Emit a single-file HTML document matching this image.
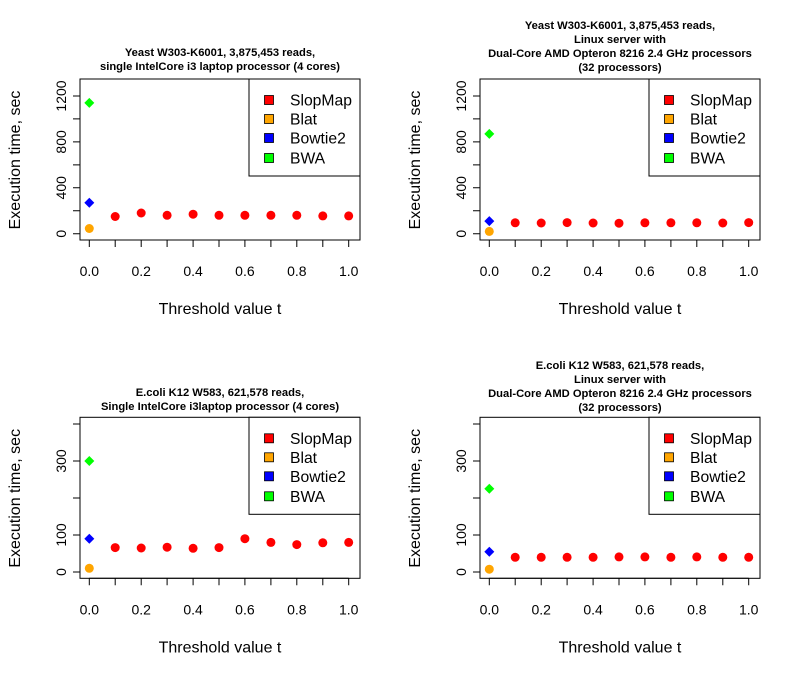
<!DOCTYPE html>
<html><head><meta charset="utf-8"><style>
html,body{margin:0;padding:0;background:#fff}
svg{display:block;font-family:"Liberation Sans",Arial,sans-serif}
.t{font-weight:bold;font-size:11.2px;text-anchor:middle}
.tk{font-size:14px;text-anchor:middle}
.ax{font-size:16px;text-anchor:middle}
.lg{font-size:15.7px}
</style></head><body>
<svg width="800" height="678" viewBox="0 0 800 678" xmlns="http://www.w3.org/2000/svg">
<defs>
<g id="xaxis">
 <path d="M89.3,240V247M115.2,240V247M141.2,240V247M167.1,240V247M193.1,240V247M219,240V247M244.9,240V247M270.9,240V247M296.8,240V247M322.8,240V247M348.7,240V247M89.3,240H348.7" stroke="#000" fill="none"/>
 <g class="tk"><text x="89.3" y="276">0.0</text><text x="141.2" y="276">0.2</text><text x="193.1" y="276">0.4</text><text x="244.9" y="276">0.6</text><text x="296.8" y="276">0.8</text><text x="348.7" y="276">1.0</text></g>
 <text class="ax" x="220" y="314">Threshold value t</text>
 <text class="ax" transform="translate(20,160) rotate(-90)">Execution time, sec</text>
 <rect x="80" y="79" width="280" height="161" fill="none" stroke="#000"/>
 <rect x="249" y="79" width="111" height="97" fill="#fff" stroke="#000"/>
 <g stroke="#000" stroke-width="0.8">
 <rect x="264.5" y="95.5" width="9" height="9" fill="#f00"/>
 <rect x="264.5" y="114.5" width="9" height="9" fill="#ffa500"/>
 <rect x="264.5" y="133.5" width="9" height="9" fill="#00f"/>
 <rect x="264.5" y="153.5" width="9" height="9" fill="#0f0"/>
 </g>
 <g class="lg"><text x="290" y="105.5">SlopMap</text><text x="290" y="124.5">Blat</text><text x="290" y="143.5">Bowtie2</text><text x="290" y="163.5">BWA</text></g>
</g>
<g id="yTop">
 <path d="M80,233.7H73M80,210.8H73M80,187.8H73M80,164.9H73M80,141.9H73M80,118.9H73M80,96H73M80,96V233.7" stroke="#000"/>
 <g class="tk"><text transform="translate(66,233.7) rotate(-90)">0</text><text transform="translate(66,187.8) rotate(-90)">400</text><text transform="translate(66,141.9) rotate(-90)">800</text><text transform="translate(66,96) rotate(-90)">1200</text></g>
</g>
<g id="yBot">
 <path d="M80,233.7H73M80,196.7H73M80,159.7H73M80,122.7H73M80,85.7H73M80,85.7V233.7" stroke="#000"/>
 <g class="tk"><text transform="translate(66,233.7) rotate(-90)">0</text><text transform="translate(66,196.7) rotate(-90)">100</text><text transform="translate(66,122.7) rotate(-90)">300</text></g>
</g>
</defs>

<use href="#xaxis"/><use href="#yTop"/>
<text class="t" x="220" y="56">Yeast W303-K6001, 3,875,453 reads,</text>
<text class="t" x="220" y="70">single IntelCore i3 laptop processor (4 cores)</text>
<g fill="#f00"><circle cx="115.2" cy="216.5" r="4.5"/><circle cx="141.2" cy="213" r="4.5"/><circle cx="167.1" cy="215.3" r="4.5"/><circle cx="193.1" cy="214.2" r="4.5"/><circle cx="219" cy="215.3" r="4.5"/><circle cx="244.9" cy="215.3" r="4.5"/><circle cx="270.9" cy="215.3" r="4.5"/><circle cx="296.8" cy="215.3" r="4.5"/><circle cx="322.8" cy="215.9" r="4.5"/><circle cx="348.7" cy="215.9" r="4.5"/></g>
<circle cx="89.3" cy="228.5" r="4.5" fill="#ffa500"/>
<path d="M89.3,197.7l5,5-5,5-5-5z" fill="#00f"/>
<path d="M89.3,97.9l5,5-5,5-5-5z" fill="#0f0"/>

<g transform="translate(400,0)">
<use href="#xaxis"/><use href="#yTop"/>
<g fill="#f00"><circle cx="115.2" cy="222.8" r="4.5"/><circle cx="141.2" cy="223" r="4.5"/><circle cx="167.1" cy="222.6" r="4.5"/><circle cx="193.1" cy="223" r="4.5"/><circle cx="219" cy="223.2" r="4.5"/><circle cx="244.9" cy="222.8" r="4.5"/><circle cx="270.9" cy="222.8" r="4.5"/><circle cx="296.8" cy="222.8" r="4.5"/><circle cx="322.8" cy="223" r="4.5"/><circle cx="348.7" cy="222.6" r="4.5"/></g>
<circle cx="89.3" cy="231.4" r="4.5" fill="#ffa500"/>
<path d="M89.3,216.1l5,5-5,5-5-5z" fill="#00f"/>
<path d="M89.3,128.9l5,5-5,5-5-5z" fill="#0f0"/>
</g>
<text class="t" x="620" y="29">Yeast W303-K6001, 3,875,453 reads,</text>
<text class="t" x="620" y="43">Linux server with</text>
<text class="t" x="620" y="57">Dual-Core AMD Opteron 8216 2.4 GHz processors</text>
<text class="t" x="620" y="71">(32 processors)</text>

<g transform="translate(0,338.3)">
<use href="#xaxis"/><use href="#yBot"/>
<g fill="#f00"><circle cx="115.2" cy="209.3" r="4.5"/><circle cx="141.2" cy="209.7" r="4.5"/><circle cx="167.1" cy="208.9" r="4.5"/><circle cx="193.1" cy="210" r="4.5"/><circle cx="219" cy="209.3" r="4.5"/><circle cx="244.9" cy="200.4" r="4.5"/><circle cx="270.9" cy="204.1" r="4.5"/><circle cx="296.8" cy="206.3" r="4.5"/><circle cx="322.8" cy="204.5" r="4.5"/><circle cx="348.7" cy="204.1" r="4.5"/></g>
<circle cx="89.3" cy="230" r="4.5" fill="#ffa500"/>
<path d="M89.3,195.4l5,5-5,5-5-5z" fill="#00f"/>
<path d="M89.3,117.7l5,5-5,5-5-5z" fill="#0f0"/>
</g>
<text class="t" x="220" y="396">E.coli K12 W583, 621,578 reads,</text>
<text class="t" x="220" y="410">Single IntelCore i3laptop processor (4 cores)</text>

<g transform="translate(400,338.3)">
<use href="#xaxis"/><use href="#yBot"/>
<g fill="#f00"><circle cx="115.2" cy="219" r="4.5"/><circle cx="141.2" cy="219" r="4.5"/><circle cx="167.1" cy="219" r="4.5"/><circle cx="193.1" cy="219" r="4.5"/><circle cx="219" cy="218.6" r="4.5"/><circle cx="244.9" cy="218.6" r="4.5"/><circle cx="270.9" cy="219" r="4.5"/><circle cx="296.8" cy="218.6" r="4.5"/><circle cx="322.8" cy="219" r="4.5"/><circle cx="348.7" cy="219" r="4.5"/></g>
<circle cx="89.3" cy="230.9" r="4.5" fill="#ffa500"/>
<path d="M89.3,208.4l5,5-5,5-5-5z" fill="#00f"/>
<path d="M89.3,145.4l5,5-5,5-5-5z" fill="#0f0"/>
</g>
<text class="t" x="620" y="369">E.coli K12 W583, 621,578 reads,</text>
<text class="t" x="620" y="383">Linux server with</text>
<text class="t" x="620" y="397">Dual-Core AMD Opteron 8216 2.4 GHz processors</text>
<text class="t" x="620" y="411">(32 processors)</text>
</svg>
</body></html>
